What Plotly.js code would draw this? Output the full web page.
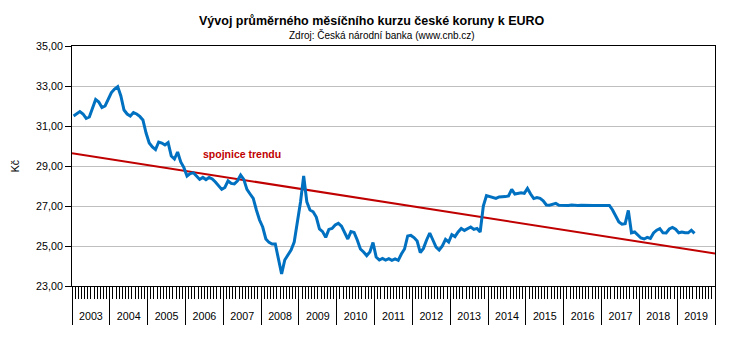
<!DOCTYPE html>
<html><head><meta charset="utf-8">
<script src="https://cdn.plot.ly/plotly-3.0.1.min.js"></script>
<style>html,body{margin:0;padding:0;background:#fff}#chart{width:733px;height:356px}</style>
</head><body><div id="chart"></div>
<script>
// Year category labels (each year = 12 monthly categories)
const years = ['2003','2004','2005','2006','2007','2008','2009','2010','2011','2012','2013','2014','2015','2016','2017','2018','2019'];

// Monthly average CZK/EUR rates
const y2003 = [31.50, 31.62, 31.72, 31.60, 31.38, 31.45, 31.90, 32.33, 32.20, 31.92, 32.00, 32.35];
const y2004 = [32.67, 32.85, 32.97, 32.50, 31.80, 31.60, 31.50, 31.67, 31.60, 31.48, 31.30, 30.65];
const y2005 = [30.15, 29.95, 29.82, 30.20, 30.15, 30.05, 30.17, 29.50, 29.35, 29.70, 29.20, 28.92];
const y2006 = [28.50, 28.62, 28.66, 28.50, 28.33, 28.43, 28.32, 28.43, 28.35, 28.20, 28.00, 27.83];
const y2007 = [27.93, 28.26, 28.13, 28.10, 28.26, 28.55, 28.33, 27.83, 27.60, 27.38, 26.80, 26.30];
const y2008 = [25.95, 25.35, 25.18, 25.10, 25.10, 24.30, 23.60, 24.30, 24.55, 24.80, 25.20, 26.12];
const y2009 = [27.20, 28.50, 27.21, 26.80, 26.71, 26.45, 25.85, 25.72, 25.43, 25.83, 25.88, 26.05];
const y2010 = [26.13, 25.99, 25.70, 25.35, 25.72, 25.68, 25.30, 24.85, 24.70, 24.52, 24.70, 25.17];
const y2011 = [24.45, 24.30, 24.38, 24.30, 24.37, 24.28, 24.35, 24.28, 24.60, 24.85, 25.50, 25.53];
const y2012 = [25.42, 25.25, 24.67, 24.88, 25.30, 25.65, 25.30, 24.95, 24.80, 25.00, 25.33, 25.20];
const y2013 = [25.57, 25.47, 25.70, 25.88, 25.78, 25.85, 25.95, 25.83, 25.88, 25.70, 27.00, 27.52];
const y2014 = [27.48, 27.44, 27.38, 27.45, 27.45, 27.47, 27.50, 27.83, 27.60, 27.62, 27.66, 27.63];
const y2015 = [27.88, 27.60, 27.37, 27.42, 27.38, 27.26, 27.05, 27.04, 27.07, 27.13, 27.04, 27.03];
const y2016 = [27.03, 27.03, 27.05, 27.03, 27.03, 27.04, 27.03, 27.03, 27.02, 27.03, 27.03, 27.03];
const y2017 = [27.02, 27.02, 27.03, 26.80, 26.50, 26.20, 26.09, 26.12, 26.78, 25.66, 25.70, 25.55];
const y2018 = [25.40, 25.35, 25.43, 25.38, 25.65, 25.79, 25.87, 25.66, 25.65, 25.85, 25.93, 25.84];
const y2019 = [25.66, 25.70, 25.66, 25.66, 25.79, 25.63];

// Linear trend line ("spojnice trendu") values at the start and end of the axis
const trendValues = [29.64, 24.62];

const monthlyRates = [].concat(y2003, y2004, y2005, y2006, y2007, y2008, y2009, y2010,
  y2011, y2012, y2013, y2014, y2015, y2016, y2017, y2018, y2019);
const monthsTotal = years.length * 12;
const monthPos = monthlyRates.map((_, i) => i + 0.5);
const yearCenters = years.map((_, k) => k * 12 + 6);

const font = 'Liberation Sans, Arial, sans-serif';

const traces = [
  {
    x: [0, monthsTotal], y: trendValues, type: 'scatter', mode: 'lines',
    line: {color: '#C00000', width: 2}, hoverinfo: 'skip', showlegend: false
  },
  {
    x: monthPos, y: monthlyRates, type: 'scatter', mode: 'lines',
    line: {color: '#0070C0', width: 3}, showlegend: false
  },
  {
    // invisible helper trace to activate the year label axis
    x: yearCenters, y: yearCenters.map(() => null), xaxis: 'x2', type: 'scatter', mode: 'markers',
    showlegend: false, hoverinfo: 'skip'
  }
];

const layout = {
  width: 733, height: 356, autosize: false,
  margin: {l: 72, r: 18, t: 46, b: 70},
  paper_bgcolor: '#fff', plot_bgcolor: '#fff',
  separators: ', ',
  showlegend: false,
  hovermode: false,
  font: {family: font, size: 10.7, color: '#000'},
  xaxis: {
    range: [0, monthsTotal], tickmode: 'linear', tick0: 0, dtick: 12,
    ticks: 'outside', ticklen: 38, tickwidth: 1, tickcolor: '#000',
    showticklabels: false, showgrid: false, zeroline: false,
    showline: true, linecolor: '#000', linewidth: 1, mirror: true,
    minor: {ticks: 'outside', ticklen: 12, tickmode: 'linear', tick0: 0, dtick: 1, tickcolor: '#000', tickwidth: 1, showgrid: false}
  },
  xaxis2: {
    overlaying: 'x', anchor: 'y', side: 'bottom', range: [0, monthsTotal],
    tickmode: 'array', tickvals: yearCenters, ticktext: years,
    ticks: 'outside', ticklen: 20, tickcolor: 'rgba(0,0,0,0)',
    showgrid: false, zeroline: false, showline: false,
    tickfont: {family: font, size: 10.7, color: '#000'}
  },
  yaxis: {
    range: [23, 35], tickmode: 'linear', tick0: 23, dtick: 2, tickformat: '.2f',
    ticks: 'outside', ticklen: 6, tickcolor: '#000', tickwidth: 1,
    showline: true, linecolor: '#000', linewidth: 1, mirror: true,
    showgrid: true, gridcolor: '#BFBFBF', gridwidth: 1, zeroline: false,
    tickfont: {family: font, size: 10.7, color: '#000'},
    title: {text: 'Kč', font: {family: font, size: 10.7, color: '#000'}, standoff: 14}
  },
  annotations: [
    {
      text: '<b>Vývoj průměrného měsíčního kurzu české koruny k EURO</b>',
      xref: 'paper', yref: 'paper', x: (372 - 72) / 643, y: 1 + (46 - 21) / 240,
      xanchor: 'center', yanchor: 'middle', showarrow: false,
      font: {family: font, size: 12.5, color: '#000'}
    },
    {
      text: 'Zdroj: Česká národní banka (www.cnb.cz)',
      xref: 'paper', yref: 'paper', x: (382 - 72) / 643, y: 1 + (46 - 35) / 240,
      xanchor: 'center', yanchor: 'middle', showarrow: false,
      font: {family: font, size: 10, color: '#000'}
    },
    {
      text: '<b>spojnice trendu</b>',
      xref: 'x', yref: 'y', x: 54, y: 29.6,
      xanchor: 'center', yanchor: 'middle', showarrow: false,
      font: {family: font, size: 10.5, color: '#C00000'}
    }
  ]
};

Plotly.newPlot('chart', traces, layout, {displayModeBar: false, staticPlot: true});
</script>
</body></html>
